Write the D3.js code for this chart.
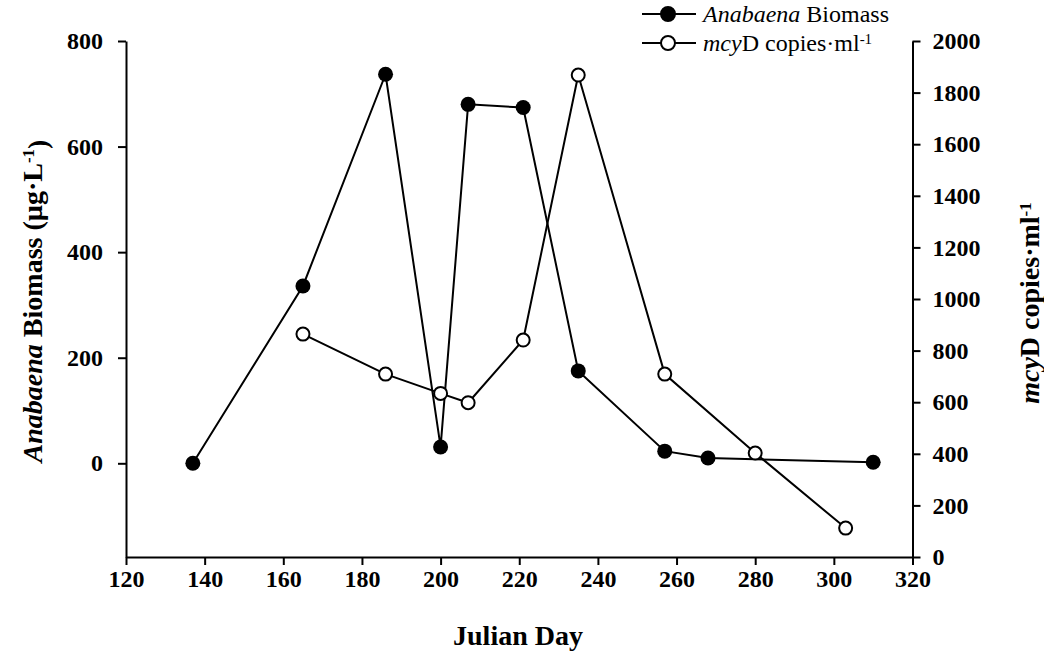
<!DOCTYPE html>
<html>
<head>
<meta charset="utf-8">
<script src="https://cdn.jsdelivr.net/npm/d3@7"></script>
<style>
  html, body { margin: 0; padding: 0; background: #fff; }
  svg { display: block; }
  text { font-family: "Liberation Serif", "Times New Roman", serif; fill: #000; }
</style>
</head>
<body>
<svg id="chart" width="1044" height="655"></svg>
<script>
// Julian days sampled for each series
const biomassDays = [137, 165, 186, 200, 207, 221, 235, 257, 268, 310];
const biomassValues = [0, 336, 737, 31, 680, 674, 175, 23, 10, 2];

const mcyDays = [165, 186, 200, 207, 221, 235, 257, 280, 303];
const mcyValues = [864, 709, 634, 598, 841, 1868, 709, 403, 112];

const xTicks = [120, 140, 160, 180, 200, 220, 240, 260, 280, 300, 320];
const leftTicks = [0, 200, 400, 600, 800];
const rightTicks = [0, 200, 400, 600, 800, 1000, 1200, 1400, 1600, 1800, 2000];

const svg = d3.select("#chart");

const plotLeft = 126, plotRight = 912.5, plotTop = 41, plotBottom = 557;

const x = d3.scaleLinear().domain([120, 320]).range([plotLeft, plotRight]);
const yL = d3.scaleLinear().domain([-177.5, 800]).range([plotBottom, plotTop]);
const yR = d3.scaleLinear().domain([0, 2000]).range([plotBottom, plotTop]);

const fmt = d3.format("d");

// axes
const gx = svg.append("g").attr("transform", `translate(0,${plotBottom})`)
  .call(d3.axisBottom(x).tickValues(xTicks).tickFormat(fmt).tickSize(8).tickPadding(5).tickSizeOuter(0));
const gl = svg.append("g").attr("transform", `translate(${plotLeft},0)`)
  .call(d3.axisLeft(yL).tickValues(leftTicks).tickFormat(fmt).tickSize(8).tickPadding(15).tickSizeOuter(0));
const gr = svg.append("g").attr("transform", `translate(${plotRight},0)`)
  .call(d3.axisRight(yR).tickValues(rightTicks).tickFormat(fmt).tickSize(8).tickPadding(12).tickSizeOuter(0));

[gx, gl, gr].forEach(g => {
  g.select(".domain").attr("stroke", "#000").attr("stroke-width", 2);
  g.selectAll(".tick line").attr("stroke", "#000").attr("stroke-width", 2);
  g.selectAll(".tick text")
    .style("font-family", '"Liberation Serif", serif')
    .style("font-weight", "bold")
    .style("font-size", "24px")
    .attr("fill", "#000");
});

// series lines
const lineB = d3.line().x((d, i) => x(biomassDays[i])).y(d => yL(d));
const lineM = d3.line().x((d, i) => x(mcyDays[i])).y(d => yR(d));

svg.append("path").datum(biomassValues).attr("d", lineB)
  .attr("fill", "none").attr("stroke", "#000").attr("stroke-width", 2);
svg.append("path").datum(mcyValues).attr("d", lineM)
  .attr("fill", "none").attr("stroke", "#000").attr("stroke-width", 2);

svg.append("g").selectAll("circle").data(mcyValues).join("circle")
  .attr("cx", (d, i) => x(mcyDays[i])).attr("cy", d => yR(d)).attr("r", 6.5)
  .attr("fill", "#fff").attr("stroke", "#000").attr("stroke-width", 2);
svg.append("g").selectAll("circle").data(biomassValues).join("circle")
  .attr("cx", (d, i) => x(biomassDays[i])).attr("cy", d => yL(d)).attr("r", 7.5)
  .attr("fill", "#000");

// axis titles
svg.append("text").attr("x", 518).attr("y", 645).attr("text-anchor", "middle")
  .style("font-size", "28px").style("font-weight", "bold").text("Julian Day");

const lt = svg.append("text").attr("transform", "translate(42,301) rotate(-90)")
  .attr("text-anchor", "middle").style("font-size", "28px").style("font-weight", "bold");
lt.append("tspan").style("font-style", "italic").text("Anabaena");
lt.append("tspan").text(" Biomass (µg·L");
lt.append("tspan").attr("dy", "-0.45em").style("font-size", "17px").text("-1");
lt.append("tspan").attr("dy", "0.45em").text(")");

const rt = svg.append("text").attr("transform", "translate(1039,303) rotate(-90)")
  .attr("text-anchor", "middle").style("font-size", "28px").style("font-weight", "bold");
rt.append("tspan").style("font-style", "italic").text("mcy");
rt.append("tspan").text("D copies·ml");
rt.append("tspan").attr("dy", "-0.45em").style("font-size", "17px").text("-1");

// legend
const legend = svg.append("g");
const legItems = [
  { y: 14, filled: true, parts: [["Anabaena", true], [" Biomass", false]] },
  { y: 43, filled: false, parts: [["mcy", true], ["D copies·ml", false], ["-1", false, true]] }
];
legItems.forEach(it => {
  legend.append("line").attr("x1", 642).attr("x2", 696).attr("y1", it.y).attr("y2", it.y)
    .attr("stroke", "#000").attr("stroke-width", 2);
  legend.append("circle").attr("cx", 668).attr("cy", it.y).attr("r", 7)
    .attr("fill", it.filled ? "#000" : "#fff").attr("stroke", "#000").attr("stroke-width", 2);
  const t = legend.append("text").attr("x", 703).attr("y", it.y + 8).style("font-size", "24px");
  it.parts.forEach(p => {
    const s = t.append("tspan").text(p[0]);
    if (p[1]) s.style("font-style", "italic");
    if (p[2]) s.attr("dy", "-0.45em").style("font-size", "15px");
  });
});
</script>
</body>
</html>
